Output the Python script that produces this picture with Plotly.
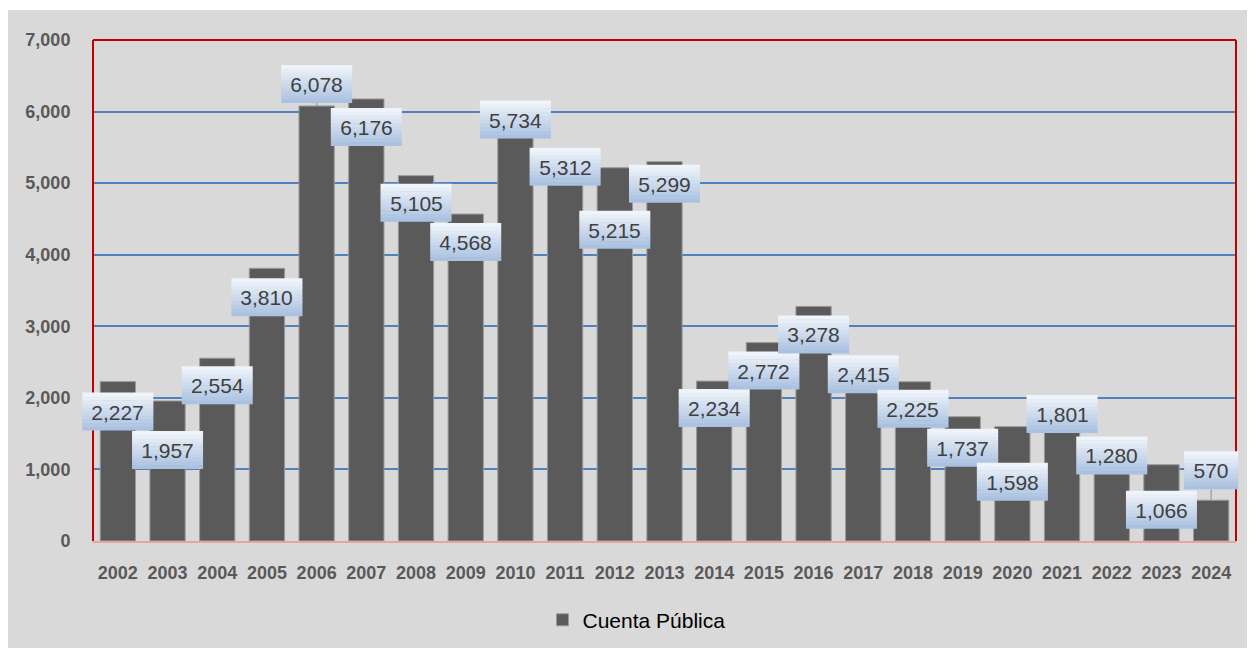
import plotly.graph_objects as go

years = [str(y) for y in range(2002, 2025)]
values = [2227, 1957, 2554, 3810, 6078, 6176, 5105, 4568, 5734, 5312, 5215, 5299,
          2234, 2772, 3278, 2415, 2225, 1737, 1598, 1801, 1280, 1066, 570]
# vertical pixel offset of each data label from the bar top (positive = below)
label_offsets = [30, 49, 27, 29, -22, 28, 27, 28, -11, 6, 62, 22,
                 27, 28, 28, 6, 27, 31, 55, 2, 6, 45, -30]
series_name = "Cuenta Pública"
y_ticks = [0, 1000, 2000, 3000, 4000, 5000, 6000, 7000]

BG = "#d9d9d9"
FONT = "Liberation Sans, Arial"
BOX_H = 38
GRAD_TOP = (243, 246, 251)
GRAD_BOT = (166, 191, 223)
N_BANDS = 10
n = len(years)

fig = go.Figure()
fig.add_trace(go.Bar(
    x=years, y=values, name=series_name,
    marker=dict(color="#5a5a5a", line=dict(color="#9a9a9a", width=1)),
    showlegend=True,
))

# outer chart area (gray) on white page
fig.add_shape(type="rect", xref="paper", yref="paper",
              x0=-0.0752, x1=1.0105, y0=-0.2136, y1=1.0599,
              fillcolor=BG, line=dict(width=0), layer="below")
# red plot border (left, top, right)
for (x0, y0, x1, y1) in [(0, 0, 0, 1), (0, 1, 1, 1), (1, 0, 1, 1)]:
    fig.add_shape(type="line", xref="paper", yref="paper",
                  x0=x0, y0=y0, x1=x1, y1=y1,
                  line=dict(color="#c00000", width=2), layer="above")

for i, (v, off) in enumerate(zip(values, label_offsets)):
    xc = (i + 0.5) / n  # category centre as a fraction of the plot width
    txt = f"{v:,}"
    box_w = 71 if len(txt) > 3 else 54
    top = -off + BOX_H / 2
    if off < 0 and top - BOX_H > 0:
        # leader line from label box down to the bar top
        fig.add_shape(type="line", xref="paper", yref="y",
                      xsizemode="pixel", ysizemode="pixel",
                      xanchor=xc, yanchor=v,
                      x0=0, x1=0, y0=0, y1=top - BOX_H,
                      line=dict(color="#a6a6a6", width=1.5), layer="above")
    # gradient label box built from thin pixel-sized bands anchored on the bar top
    for k in range(N_BANDS):
        t = (k + 0.5) / N_BANDS
        col = "rgb({},{},{})".format(*[round(a + (b - a) * t) for a, b in zip(GRAD_TOP, GRAD_BOT)])
        y1 = top - BOX_H * k / N_BANDS
        y0 = top - BOX_H * (k + 1) / N_BANDS - (0.6 if k < N_BANDS - 1 else 0)
        fig.add_shape(type="rect", xref="paper", yref="y",
                      xsizemode="pixel", ysizemode="pixel",
                      xanchor=xc, yanchor=v,
                      x0=-box_w / 2, x1=box_w / 2, y0=y0, y1=y1,
                      fillcolor=col, line=dict(width=0), layer="above")
    fig.add_annotation(
        x=i, y=v, xref="x", yref="y",
        text=txt,
        showarrow=True, ax=0, ay=off, axref="pixel", ayref="pixel",
        arrowhead=0, arrowwidth=0.1, arrowcolor="rgba(0,0,0,0)",
        standoff=0,
        font=dict(family=FONT, size=21, color="#404040"),
        bgcolor="rgba(0,0,0,0)", borderpad=6, borderwidth=0,
        width=box_w - 12, height=26,
    )

fig.update_layout(
    width=1247, height=646,
    paper_bgcolor="white", plot_bgcolor=BG,
    margin=dict(l=85, r=19, t=32, b=113),
    bargap=0.29,
    font=dict(family=FONT),
    legend=dict(orientation="h", x=0.4755, xanchor="center", y=-0.158, yanchor="middle",
                bgcolor="rgba(0,0,0,0)",
                font=dict(size=21, color="#000000", family=FONT)),
    xaxis=dict(
        type="category", range=[-0.5, n - 0.5], autorange=False,
        showgrid=False,
        showline=True, linecolor="#e8a3a3", linewidth=2,
        ticks="outside", ticklen=14, tickcolor="rgba(0,0,0,0)",
        tickfont=dict(size=18, color="#595959", family=FONT),
        tickprefix="<b>", ticksuffix="</b>",
    ),
    yaxis=dict(
        range=[0, 7000], autorange=False, tickvals=y_ticks,
        ticktext=[f"<b>{t:,}</b>" for t in y_ticks],
        showgrid=True, gridcolor="#4f81bd", gridwidth=1.5,
        zeroline=False, showline=False,
        ticks="outside", ticklen=18, tickcolor="rgba(0,0,0,0)",
        tickfont=dict(size=18, color="#595959", family=FONT),
    ),
)

fig.write_html("out.html")
